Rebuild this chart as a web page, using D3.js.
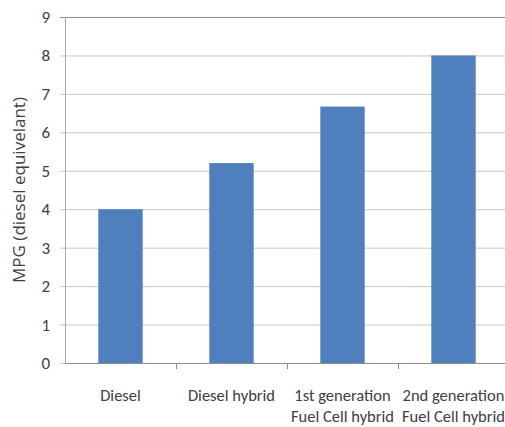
<!DOCTYPE html>
<html>
<head>
<meta charset="utf-8">
<script src="https://cdn.jsdelivr.net/npm/d3@7"></script>
<style>
  body { margin: 0; background: #fff; }
  svg text { font-family: Carlito, "Liberation Sans Narrow", "Open Sans", sans-serif; fill: #404040; }
</style>
</head>
<body>
<svg id="chart" width="505" height="427"></svg>
<script>
const categories = ["Diesel", "Diesel hybrid", "1st generation\nFuel Cell hybrid", "2nd generation\nFuel Cell hybrid"];
const mpg = [4, 5.2, 6.67, 8];
const yTicks = [0, 1, 2, 3, 4, 5, 6, 7, 8, 9];

const svg = d3.select("#chart");
const m = { left: 65, right: 509, top: 17, bottom: 363 };

const x = d3.scaleBand().domain(categories).range([m.left, m.right]).paddingInner(0.6).paddingOuter(0.3);
const y = d3.scaleLinear().domain([0, 9]).range([m.bottom, m.top]);

// gridlines
svg.append("g")
  .selectAll("line")
  .data(yTicks)
  .join("line")
  .attr("x1", m.left - 5)
  .attr("x2", 505)
  .attr("y1", (d) => y(d) + 0.5)
  .attr("y2", (d) => y(d) + 0.5)
  .attr("stroke", (d) => (d === 9 ? "#8c8c8c" : "#c6c6c6"))
  .attr("stroke-width", 1);

// bars
svg.append("g")
  .selectAll("rect")
  .data(categories)
  .join("rect")
  .attr("x", (d) => x(d))
  .attr("width", x.bandwidth())
  .attr("y", (d, i) => y(mpg[i]))
  .attr("height", (d, i) => y(0) - y(mpg[i]))
  .attr("fill", "#4f7fbd");

// y axis line
svg.append("line")
  .attr("x1", m.left + 0.5).attr("x2", m.left + 0.5)
  .attr("y1", m.top).attr("y2", m.bottom)
  .attr("stroke", "#a6a6a6");

// x axis line + ticks
svg.append("line")
  .attr("x1", m.left).attr("x2", 505)
  .attr("y1", m.bottom + 0.5).attr("y2", m.bottom + 0.5)
  .attr("stroke", "#8c8c8c");

const step = (m.right - m.left) / categories.length;
svg.append("g")
  .selectAll("line")
  .data(categories.slice(1))
  .join("line")
  .attr("x1", (d) => x(d) - (step - x.bandwidth()) / 2 + 0.5)
  .attr("x2", (d) => x(d) - (step - x.bandwidth()) / 2 + 0.5)
  .attr("y1", m.bottom)
  .attr("y2", m.bottom + 6)
  .attr("stroke", "#8c8c8c");

// y tick labels
svg.append("g")
  .selectAll("text")
  .data(yTicks)
  .join("text")
  .attr("x", 50)
  .attr("y", (d) => y(d) + 6)
  .attr("text-anchor", "end")
  .attr("font-size", 17)
  .text((d) => d);

// category labels
const cat = svg.append("g")
  .selectAll("text")
  .data(categories)
  .join("text")
  .attr("x", (d) => x(d) + x.bandwidth() / 2)
  .attr("y", 401)
  .attr("text-anchor", "middle")
  .attr("font-size", 16.5);
cat.selectAll("tspan")
  .data((d) => d.split("\n").map((t) => ({ t, x: x(d) + x.bandwidth() / 2 })))
  .join("tspan")
  .attr("x", (d) => d.x)
  .attr("dy", (d, i) => (i ? 21 : 0))
  .text((d) => d.t);

// y axis title
svg.append("text")
  .attr("transform", "translate(25,190) rotate(-90)")
  .attr("text-anchor", "middle")
  .attr("font-size", 17)
  .style("font-family", "'Open Sans', sans-serif")
  .text("MPG (diesel equivelant)");
</script>
</body>
</html>
